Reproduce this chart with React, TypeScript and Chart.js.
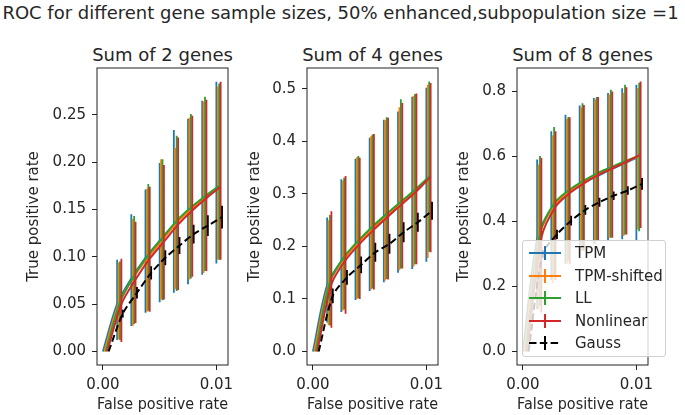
import React, { useEffect, useRef } from 'react';
import { Chart, registerables } from 'chart.js';

Chart.register(...registerables);

// false positive rates where the ROC curves are sampled
const fprSteps = [0, 0.00125, 0.0025, 0.00375, 0.005, 0.00625, 0.0075, 0.00875, 0.01];
// small horizontal shift per method so the error bars sit side by side
const methodShift = [0, 0.000125, 0.00025, 0.000375, 0.0005];
const methodNames = ['TPM', 'TPM-shifted', 'LL', 'Nonlinear', 'Gauss'];
const methodColors = ['#1f77b4', '#ff7f0e', '#2ca02c', '#d62728', '#000000'];

const xTicks = [0, 0.01];

// Sum of 2 genes (rows: TPM, TPM-shifted, LL, Nonlinear)
const g2Mean = [
  [0, 0.050, 0.077, 0.099, 0.117, 0.134, 0.149, 0.161, 0.172],
  [0, 0.050, 0.077, 0.098, 0.116, 0.134, 0.149, 0.162, 0.173],
  [0, 0.052, 0.080, 0.102, 0.120, 0.138, 0.152, 0.164, 0.175],
  [0, 0.050, 0.076, 0.098, 0.116, 0.134, 0.149, 0.162, 0.174],
];
const g2Low = [
  [0, 0.012, 0.027, 0.041, 0.052, 0.062, 0.071, 0.081, 0.093],
  [0, 0.013, 0.027, 0.042, 0.055, 0.066, 0.076, 0.083, 0.097],
  [0, 0.012, 0.029, 0.043, 0.054, 0.064, 0.077, 0.085, 0.097],
  [0, 0.010, 0.030, 0.042, 0.055, 0.065, 0.079, 0.085, 0.097],
];
const g2High = [
  [0, 0.097, 0.145, 0.171, 0.199, 0.234, 0.246, 0.265, 0.285],
  [0, 0.094, 0.140, 0.172, 0.203, 0.215, 0.247, 0.264, 0.280],
  [0, 0.095, 0.143, 0.177, 0.203, 0.228, 0.251, 0.269, 0.283],
  [0, 0.098, 0.137, 0.174, 0.197, 0.226, 0.249, 0.266, 0.285],
];
const g2GaussMean = [0, 0.040, 0.062, 0.083, 0.099, 0.112, 0.124, 0.133, 0.142];
const g2GaussErr = [0, 0.004, 0.006, 0.007, 0.008, 0.009, 0.010, 0.011, 0.012];
const g2YTicks = [0, 0.05, 0.1, 0.15, 0.2, 0.25];

// Sum of 4 genes
const g4Mean = [
  [0, 0.126, 0.172, 0.203, 0.230, 0.254, 0.277, 0.300, 0.325],
  [0, 0.127, 0.173, 0.204, 0.231, 0.255, 0.279, 0.302, 0.330],
  [0, 0.133, 0.180, 0.211, 0.238, 0.262, 0.285, 0.308, 0.333],
  [0, 0.128, 0.174, 0.205, 0.232, 0.257, 0.281, 0.305, 0.333],
];
const g4Low = [
  [0, 0.055, 0.075, 0.098, 0.115, 0.132, 0.150, 0.157, 0.171],
  [0, 0.050, 0.078, 0.100, 0.118, 0.135, 0.155, 0.162, 0.178],
  [0, 0.050, 0.080, 0.102, 0.120, 0.138, 0.158, 0.166, 0.190],
  [0, 0.045, 0.072, 0.100, 0.118, 0.137, 0.158, 0.166, 0.189],
];
const g4High = [
  [0, 0.255, 0.328, 0.367, 0.407, 0.441, 0.457, 0.485, 0.502],
  [0, 0.250, 0.325, 0.370, 0.410, 0.440, 0.465, 0.487, 0.508],
  [0, 0.260, 0.331, 0.372, 0.413, 0.446, 0.480, 0.490, 0.514],
  [0, 0.267, 0.334, 0.369, 0.414, 0.445, 0.473, 0.491, 0.511],
];
const g4GaussMean = [0, 0.106, 0.141, 0.165, 0.189, 0.205, 0.227, 0.246, 0.268];
const g4GaussErr = [0, 0.014, 0.014, 0.016, 0.018, 0.019, 0.019, 0.018, 0.017];
const g4YTicks = [0, 0.1, 0.2, 0.3, 0.4, 0.5];

// Sum of 8 genes
const g8Mean = [
  [0, 0.345, 0.440, 0.482, 0.511, 0.535, 0.555, 0.575, 0.595],
  [0, 0.348, 0.443, 0.485, 0.515, 0.540, 0.560, 0.580, 0.600],
  [0, 0.362, 0.455, 0.495, 0.523, 0.547, 0.566, 0.585, 0.602],
  [0, 0.350, 0.445, 0.487, 0.517, 0.542, 0.563, 0.583, 0.605],
];
const g8Low = [
  [0, 0.13, 0.22, 0.27, 0.30, 0.33, 0.34, 0.345, 0.340],
  [0, 0.13, 0.21, 0.27, 0.31, 0.33, 0.35, 0.355, 0.375],
  [0, 0.14, 0.23, 0.28, 0.31, 0.34, 0.35, 0.360, 0.370],
  [0, 0.12, 0.22, 0.27, 0.31, 0.34, 0.35, 0.360, 0.380],
];
const g8High = [
  [0, 0.590, 0.677, 0.728, 0.756, 0.779, 0.795, 0.809, 0.820],
  [0, 0.575, 0.665, 0.715, 0.750, 0.775, 0.790, 0.795, 0.810],
  [0, 0.601, 0.690, 0.721, 0.763, 0.782, 0.805, 0.820, 0.826],
  [0, 0.595, 0.677, 0.720, 0.758, 0.782, 0.799, 0.812, 0.830],
];
const g8GaussMean = [0, 0.300, 0.360, 0.402, 0.435, 0.459, 0.479, 0.495, 0.515];
const g8GaussErr = [0, 0.012, 0.014, 0.015, 0.015, 0.014, 0.013, 0.013, 0.018];
const g8YTicks = [0, 0.2, 0.4, 0.6, 0.8];

const FONT = '"DejaVu Sans", sans-serif';
const TEXT = '#262626';
const AXES_TOP = 68;
const AXES_BOTTOM = 365;
const AXES_W = 131;
const CANVAS_TOP = 40;
const FIG_H = 415;
const RIGHT_PAD = 20;

const errorBars = {
  id: 'errorBars',
  beforeDatasetDraw(chart: any, args: any) {
    const ds = chart.data.datasets[args.index];
    if (!ds.errLo) return;
    const { ctx } = chart;
    const xs = chart.scales.x;
    const ys = chart.scales.y;
    ctx.save();
    ctx.strokeStyle = ds.borderColor;
    ctx.lineWidth = 1.8;
    ctx.beginPath();
    ds.data.forEach((p: any, i: number) => {
      const lo = ds.errLo[i];
      const hi = ds.errHi[i];
      if (lo === hi) return;
      const px = xs.getPixelForValue(p.x);
      ctx.moveTo(px, ys.getPixelForValue(lo));
      ctx.lineTo(px, ys.getPixelForValue(hi));
    });
    ctx.stroke();
    ctx.restore();
  },
};

const axesFrame = {
  id: 'axesFrame',
  afterDatasetsDraw(chart: any) {
    const { ctx, chartArea: a } = chart;
    ctx.save();
    ctx.strokeStyle = '#222';
    ctx.lineWidth = 1;
    ctx.strokeRect(a.left, a.top, a.right - a.left, a.bottom - a.top);
    ctx.restore();
  },
};

interface SubPlotProps {
  axesLeft: number;
  ylabelX: number;
  title: string;
  means: number[][];
  lows: number[][];
  highs: number[][];
  gaussMean: number[];
  gaussErr: number[];
  yMin: number;
  yMax: number;
  yTicks: number[];
  decimals: number;
}

const SubPlot: React.FC<SubPlotProps> = (p) => {
  const canvasRef = useRef<HTMLCanvasElement>(null);
  const canvasLeft = p.ylabelX - 9;
  const yAxisW = p.axesLeft - canvasLeft;
  const width = yAxisW + AXES_W + RIGHT_PAD;
  const height = FIG_H - CANVAS_TOP;

  useEffect(() => {
    if (!canvasRef.current) return;
    // matplotlib draws in call order, so later methods go on top (lower chart.js order)
    const datasets: any[] = p.means.map((row, m) => ({
      label: methodNames[m],
      data: fprSteps.map((x, i) => ({ x: x + methodShift[m], y: row[i] })),
      errLo: p.lows[m],
      errHi: p.highs[m],
      borderColor: methodColors[m],
      borderWidth: 2,
      pointRadius: 0,
      tension: 0.3,
      fill: false,
      order: 4 - m,
    }));
    datasets.push({
      label: methodNames[4],
      data: fprSteps.map((x, i) => ({ x: x + methodShift[4], y: p.gaussMean[i] })),
      errLo: p.gaussMean.map((v, i) => v - p.gaussErr[i]),
      errHi: p.gaussMean.map((v, i) => v + p.gaussErr[i]),
      borderColor: methodColors[4],
      borderWidth: 2,
      borderDash: [7, 3.5],
      pointRadius: 0,
      tension: 0.3,
      fill: false,
      order: 0,
    });

    const tickFont = { family: FONT, size: 15 };
    const chart = new Chart(canvasRef.current, {
      type: 'line',
      data: { datasets },
      options: {
        animation: false,
        responsive: true,
        maintainAspectRatio: false,
        events: [],
        layout: { padding: { top: AXES_TOP - CANVAS_TOP, right: RIGHT_PAD, bottom: 0, left: 0 } },
        plugins: { legend: { display: false }, tooltip: { enabled: false } },
        scales: {
          x: {
            type: 'linear',
            min: -0.000525,
            max: 0.011025,
            afterFit: (s: any) => { s.height = FIG_H - AXES_BOTTOM; },
            afterBuildTicks: (s: any) => { s.ticks = xTicks.map((v) => ({ value: v })); },
            ticks: {
              autoSkip: false,
              maxRotation: 0,
              padding: 6,
              color: TEXT,
              font: tickFont,
              callback: (v: any) => Number(v).toFixed(2),
            },
            grid: { drawOnChartArea: false, drawTicks: true, tickLength: 5, color: '#222' },
            border: { display: false },
            title: { display: true, text: 'False positive rate', color: TEXT, font: tickFont, padding: { top: 0, bottom: 1 } },
          },
          y: {
            type: 'linear',
            min: p.yMin,
            max: p.yMax,
            afterFit: (s: any) => { s.width = yAxisW; },
            afterBuildTicks: (s: any) => { s.ticks = p.yTicks.map((v) => ({ value: v })); },
            ticks: {
              autoSkip: false,
              padding: 6,
              color: TEXT,
              font: tickFont,
              callback: (v: any) => Number(v).toFixed(p.decimals),
            },
            grid: { drawOnChartArea: false, drawTicks: true, tickLength: 5, color: '#222' },
            border: { display: false },
            title: { display: true, text: 'True positive rate', color: TEXT, font: tickFont, padding: { top: 0, bottom: 0 } },
          },
        },
      } as any,
      plugins: [errorBars, axesFrame],
    });
    return () => chart.destroy();
  }, []);

  return (
    <>
      <div
        style={{
          position: 'absolute',
          left: p.axesLeft - 30,
          width: AXES_W + 60,
          top: 45,
          textAlign: 'center',
          fontSize: 18,
          lineHeight: '20px',
          whiteSpace: 'nowrap',
        }}
      >
        {p.title}
      </div>
      <div style={{ position: 'absolute', left: canvasLeft, top: CANVAS_TOP, width, height }}>
        <canvas ref={canvasRef} />
      </div>
    </>
  );
};

const Legend: React.FC = () => (
  <div
    style={{
      position: 'absolute',
      left: 522,
      top: 240,
      width: 144,
      height: 117,
      boxSizing: 'border-box',
      border: '1px solid #d0d0d0',
      borderRadius: 3,
      background: 'rgba(255,255,255,0.8)',
    }}
  >
    {methodNames.map((name, i) => (
      <div key={name} style={{ position: 'absolute', left: 0, top: 1 + i * 22.5, height: 22, width: 142 }}>
        <svg width={34} height={22} style={{ position: 'absolute', left: 5, top: 0 }}>
          <line
            x1={1}
            y1={11}
            x2={33}
            y2={11}
            stroke={methodColors[i]}
            strokeWidth={2}
            strokeDasharray={i === 4 ? '7.5 3.3' : undefined}
          />
          <line x1={17} y1={4} x2={17} y2={18} stroke={methodColors[i]} strokeWidth={2} />
        </svg>
        <span style={{ position: 'absolute', left: 52, top: 0, lineHeight: '22px', fontSize: 15, whiteSpace: 'nowrap' }}>
          {name}
        </span>
      </div>
    ))}
  </div>
);

export default function App() {
  return (
    <div
      style={{
        position: 'absolute',
        left: 0,
        top: 0,
        width: 685,
        height: 415,
        overflow: 'hidden',
        background: '#fff',
        fontFamily: FONT,
        color: TEXT,
      }}
    >
      <div
        style={{
          position: 'absolute',
          left: -2,
          width: 685,
          top: 3,
          textAlign: 'center',
          fontSize: 18,
          lineHeight: '20px',
          whiteSpace: 'nowrap',
        }}
      >
        ROC for different gene sample sizes, 50% enhanced,subpopulation size =1
      </div>
      <SubPlot
        axesLeft={97}
        ylabelX={34}
        title="Sum of 2 genes"
        means={g2Mean}
        lows={g2Low}
        highs={g2High}
        gaussMean={g2GaussMean}
        gaussErr={g2GaussErr}
        yMin={-0.0143}
        yMax={0.2995}
        yTicks={g2YTicks}
        decimals={2}
      />
      <SubPlot
        axesLeft={307}
        ylabelX={255}
        title="Sum of 4 genes"
        means={g4Mean}
        lows={g4Low}
        highs={g4High}
        gaussMean={g4GaussMean}
        gaussErr={g4GaussErr}
        yMin={-0.0257}
        yMax={0.5397}
        yTicks={g4YTicks}
        decimals={1}
      />
      <SubPlot
        axesLeft={517}
        ylabelX={464}
        title="Sum of 8 genes"
        means={g8Mean}
        lows={g8Low}
        highs={g8High}
        gaussMean={g8GaussMean}
        gaussErr={g8GaussErr}
        yMin={-0.0415}
        yMax={0.8715}
        yTicks={g8YTicks}
        decimals={1}
      />
      <Legend />
    </div>
  );
}
